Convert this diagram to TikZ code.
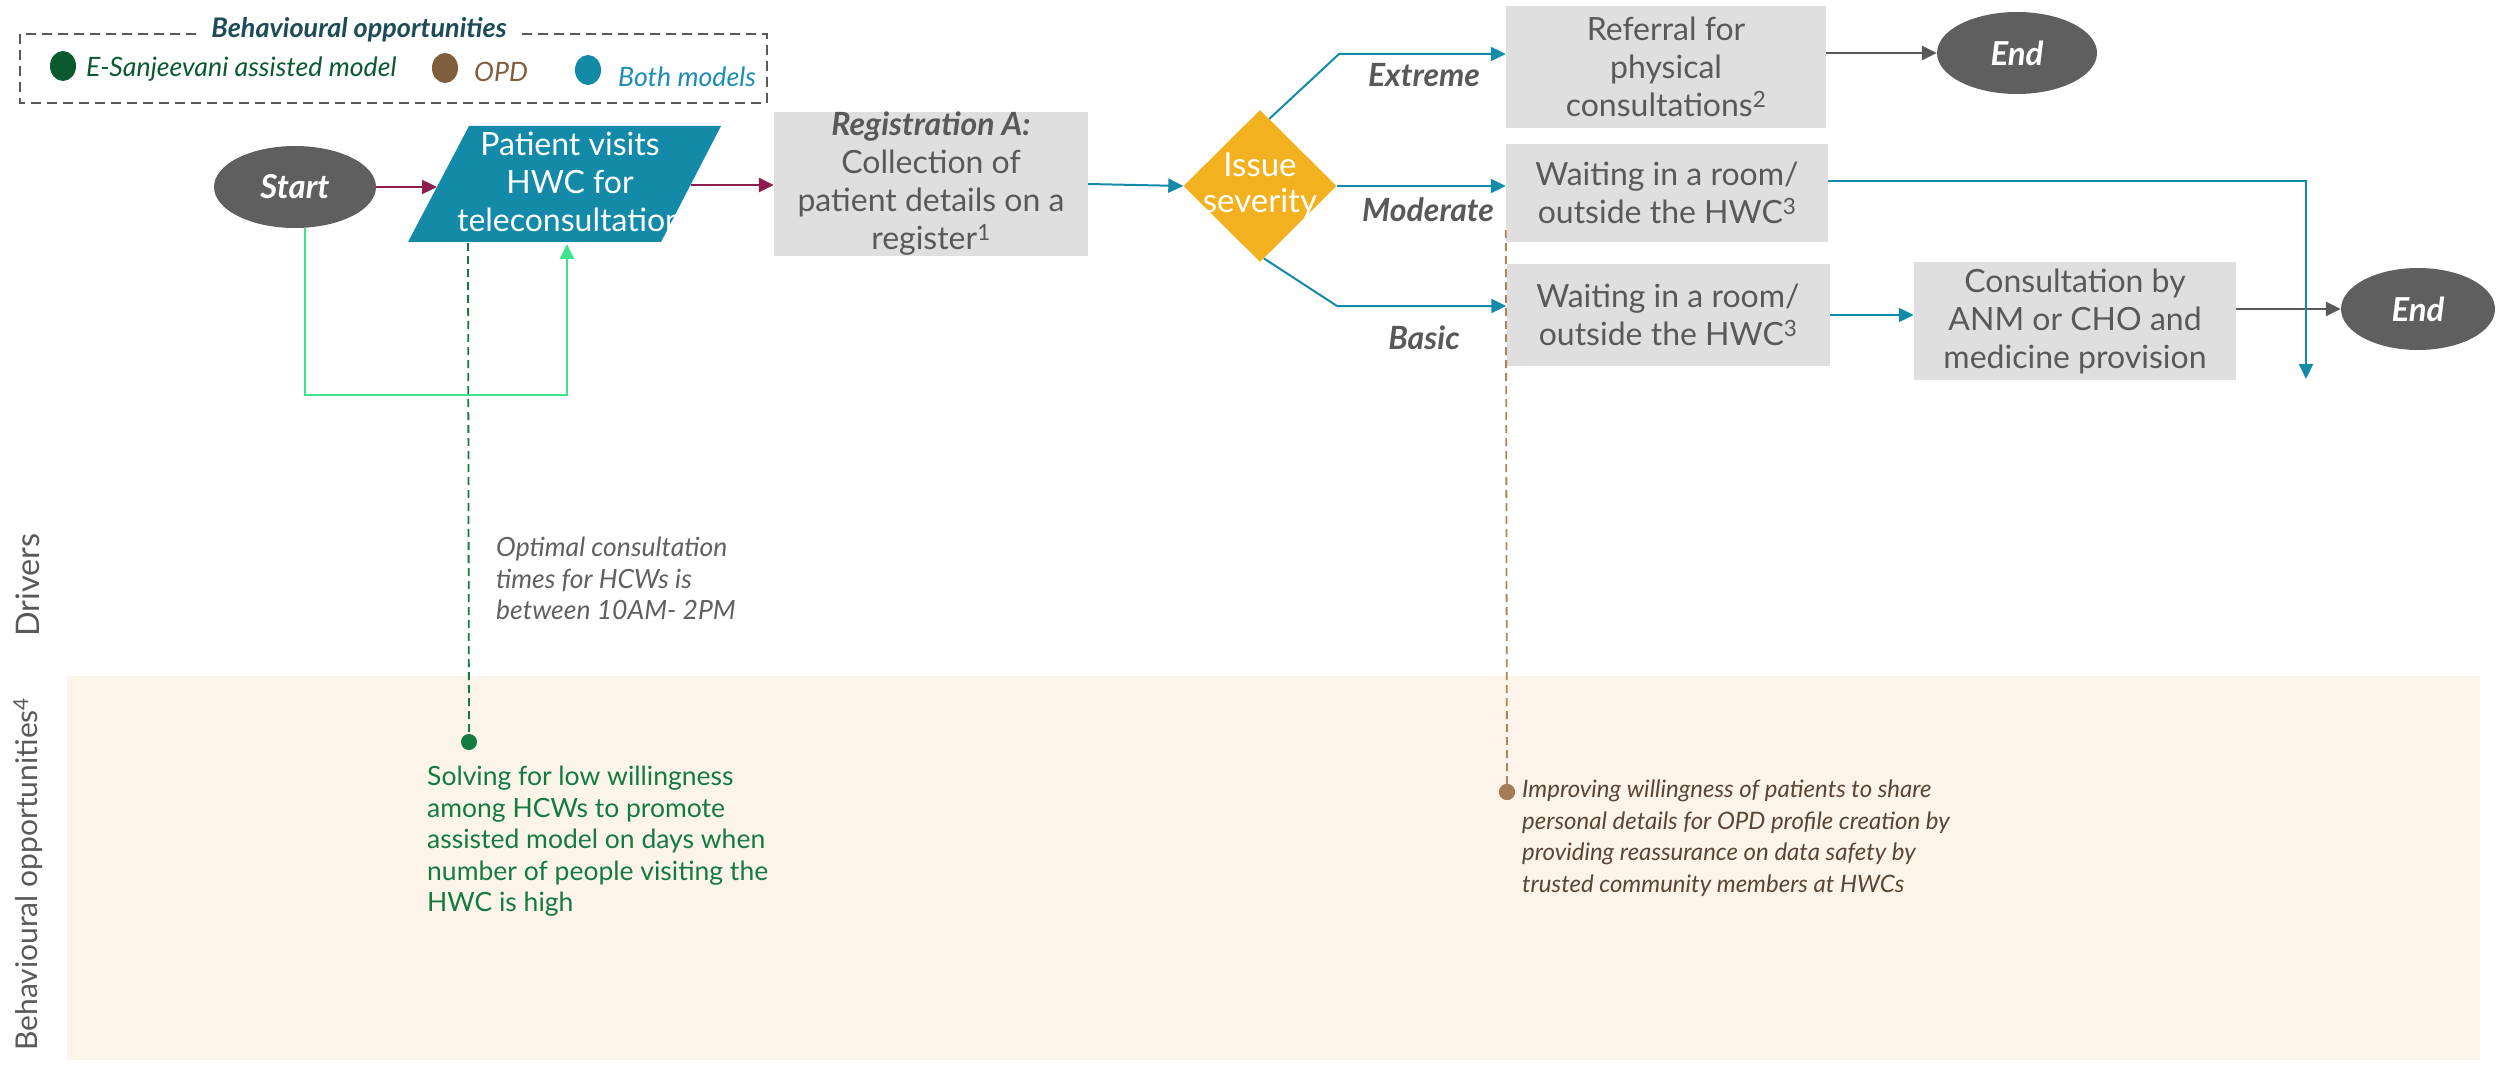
\documentclass[tikz,border=0pt]{standalone}
\usepackage{fontspec}
\setmainfont{Lato}
\usetikzlibrary{arrows.meta,shapes.geometric,calc}

\definecolor{boxgray}{HTML}{DFDFDF}
\definecolor{txtgray}{HTML}{595959}
\definecolor{notegray}{HTML}{606060}
\definecolor{tealc}{HTML}{138AA8}
\definecolor{maroonc}{HTML}{8C1D4D}
\definecolor{amber}{HTML}{F2B11E}
\definecolor{termgray}{HTML}{5F5F5F}
\definecolor{leafgreen}{HTML}{0B5A2F}
\definecolor{notegreen}{HTML}{137A40}
\definecolor{mintgreen}{HTML}{3DE48A}
\definecolor{bark}{HTML}{7F5E3D}
\definecolor{barkline}{HTML}{B08457}
\definecolor{barkdot}{HTML}{A67C56}
\definecolor{barktext}{HTML}{5A4535}
\definecolor{legendtitle}{HTML}{1D4B57}
\definecolor{bothtext}{HTML}{1B8DB3}
\definecolor{peach}{HTML}{FDF4E9}

\newcommand\bxfont{\fontsize{32pt}{38pt}\selectfont}
\newcommand\tmfont{\fontsize{33pt}{36pt}\selectfont\bfseries\itshape}
\newcommand\lblfont{\fontsize{32pt}{36pt}\selectfont\bfseries\itshape}
\newcommand\notefont{\fontsize{26.5pt}{31.5pt}\selectfont}
\newcommand\bnotefont{\fontsize{24pt}{31.5pt}\selectfont\itshape}
\newcommand\lgfont{\fontsize{26.7pt}{30pt}\selectfont\itshape}
\newcommand\lgtitlefont{\fontsize{27pt}{30pt}\selectfont\bfseries\itshape}
\newcommand\sidefont{\fontsize{30pt}{36pt}\selectfont}

\begin{document}
\begin{tikzpicture}[x=1pt,y=-1pt,
  stepbox/.style={fill=boxgray, text=txtgray, align=center, inner sep=0pt, font=\bxfont},
  terminal/.style={ellipse, fill=termgray, text=white, minimum height=82pt, inner sep=0pt, font=\tmfont},
  tip/.style={-{Triangle[length=15pt,width=14pt]}},
  tflow/.style={tip, draw=tealc, line width=2pt},
  mflow/.style={tip, draw=maroonc, line width=2.4pt},
  gflow/.style={tip, draw=txtgray, line width=2.4pt},
  branchlbl/.style={text=txtgray, font=\lblfont, inner sep=0pt},
  note/.style={align=left, anchor=north west, inner sep=0pt, font=\notefont},
  dotmark/.style={circle, minimum size=16pt, inner sep=0pt},
  lgdot/.style={ellipse, minimum width=26pt, minimum height=30pt, inner sep=0pt},
  lgtext/.style={anchor=west, inner sep=0pt, font=\lgfont},
  sidelbl/.style={rotate=90, text=txtgray, font=\sidefont, inner sep=0pt}
]
\useasboundingbox (0,0) rectangle (2496,1067);

% lower band
\fill[peach] (67,676) rectangle (2480,1060);

% side labels
\node[sidelbl, font=\fontsize{32.5pt}{36pt}\selectfont] (drivers) at (28,585) {Drivers};
\node[sidelbl] (bolabel) at (28,874) {Behavioural opportunities\textsuperscript{4}};

% legend
\draw[txtgray, line width=1.8pt, dash pattern=on 10pt off 6pt] (20,34) rectangle (767,103);
\node[fill=white, inner xsep=12pt, inner ysep=2pt, text=legendtitle, font=\lgtitlefont] (lgtitle) at (359,30) {Behavioural opportunities};
\node[lgdot, fill=leafgreen] (lgdot1) at (63,66) {};
\node[lgtext, text=leafgreen] (lgtext1) at (86,69) {E-Sanjeevani assisted model};
\node[lgdot, fill=bark] (lgdot2) at (445,68) {};
\node[lgtext, text=bark] (lgtext2) at (474,72) {OPD};
\node[lgdot, fill=tealc] (lgdot3) at (588,70) {};
\node[lgtext, text=bothtext] (lgtext3) at (618,77) {Both models};

% main flow
\node[terminal, minimum width=162pt] (start) at (295,187) {Start};

\fill[tealc] (408,242) -- (469,126) -- (721,126) -- (661,242) -- cycle;
\begin{scope}
  \clip (408,242) -- (469,126) -- (721,126) -- (661,242) -- cycle;
  \node[align=center, text=white, font=\bxfont, inner sep=0pt] (para) at (570,182) {Patient visits\\HWC for\\teleconsultation};
\end{scope}
\coordinate (paraW) at (437,187);
\coordinate (paraE) at (691,185);
\coordinate (paraS) at (567,244);
\coordinate (paraSg) at (468,243);

\node[stepbox, minimum width=314pt, minimum height=144pt] (reg) at (931,184)
  {\textbf{\textit{Registration A:}}\\Collection of\\patient details on a\\register\textsuperscript{1}};

\node[diamond, fill=amber, minimum width=153pt, minimum height=152pt, inner sep=0pt] (dia) at (1260,186) {};
\node[align=center, text=white, font=\fontsize{33pt}{36pt}\selectfont, inner sep=0pt] (dialbl) at (dia.center) {Issue\\severity};

\node[stepbox, minimum width=320pt, minimum height=122pt] (refer) at (1666,67) {Referral for\\physical\\consultations\textsuperscript{2}};
\node[stepbox, minimum width=322pt, minimum height=98pt] (wait1) at (1667,193) {Waiting in a room/\\outside the HWC\textsuperscript{3}};
\node[stepbox, minimum width=323pt, minimum height=102pt] (wait2) at (1668,315) {Waiting in a room/\\outside the HWC\textsuperscript{3}};
\node[stepbox, minimum width=322pt, minimum height=118pt] (consult) at (2075,321) {Consultation by\\ANM or CHO and\\medicine provision};

\node[terminal, minimum width=160pt] (end1) at (2017,53) {End};
\node[terminal, minimum width=154pt] (end2) at (2418,309) {End};

% connectors
\draw[mflow] (start.east |- paraW) -- (paraW);
\draw[mflow] (paraE) -- (reg.west |- paraE);
\draw[tflow] (reg.east) -- (dia.west);

\coordinate (xknee) at (1339,54);
\coordinate (bknee) at (1337,306);
\draw[tflow] ($(dia.north)!0.12!(dia.east)$) -- (xknee) -- (xknee -| refer.west);
\draw[tflow] (dia.east) -- (dia.east -| wait1.west);
\draw[tflow] ($(dia.south)!0.05!(dia.east)$) -- (bknee) -- (bknee -| wait2.west);

\draw[gflow] (end1.west -| refer.east) -- (end1.west);
\draw[tflow] (wait2.east) -- (wait2.east -| consult.west);
\draw[gflow] (end2.west -| consult.east) -- (end2.west);

\coordinate (modend) at (2306,379);
\draw[tflow] ([yshift=12pt]wait1.east) -| (modend);

\draw[tip, draw=mintgreen, line width=2pt] ([xshift=10pt]start.south) -- ++(0,167) -| (paraS);

\node[branchlbl] (lblx) at (1424,75) {Extreme};
\node[branchlbl] (lblm) at (1428,210) {Moderate};
\node[branchlbl] (lblb) at (1424,338) {Basic};

% drivers and behavioural opportunities
\node[dotmark, fill=notegreen] (gdot) at (469,742) {};
\draw[notegreen, line width=1.8pt, dash pattern=on 8pt off 5pt] (paraSg) -- (gdot.center);

\node[dotmark, fill=barkdot] (bdot) at (1507,792) {};
\draw[barkline, line width=1.8pt, dash pattern=on 8pt off 5pt] ([yshift=12pt]wait1.south west) -- (bdot.center);
\node[dotmark, fill=barkdot] at (bdot) {};

\node[note, text=notegray, font=\notefont\itshape] (drv) at (496,537) {Optimal consultation\\times for HCWs is\\between 10AM- 2PM};
\node[note, text=notegreen] (opgreen) at (427,766) {Solving for low willingness\\among HCWs to promote\\assisted model on days when\\number of people visiting the\\HWC is high};
\node[note, text=barktext, font=\bnotefont] (opbark) at (1522,780) {Improving willingness of patients to share\\personal details for OPD profile creation by\\providing reassurance on data safety by\\trusted community members at HWCs};
\end{tikzpicture}
\end{document}
